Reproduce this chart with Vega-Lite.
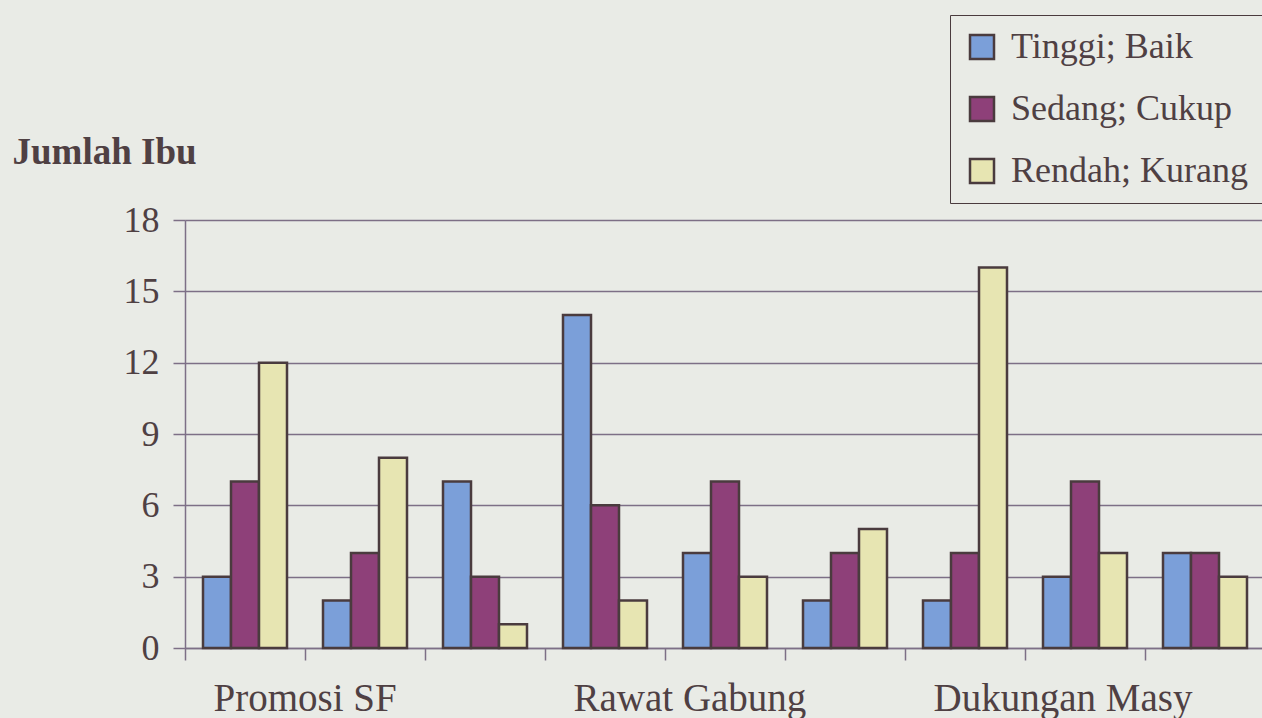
{
  "$schema": "https://vega.github.io/schema/vega-lite/v6.json",
  "width": 1080,
  "height": 428,
  "autosize": "none",
  "padding": {"left": 185, "top": 220, "right": 0, "bottom": 70},
  "background": "#e9ebe6",
  "config": {"view": {"stroke": null}, "font": "Liberation Serif"},
  "data": {
    "values": [
      {"grup": 1, "aspek": "Promosi SF", "kategori": "Tinggi; Baik", "jumlah": 3},
      {"grup": 1, "aspek": "Promosi SF", "kategori": "Sedang; Cukup", "jumlah": 7},
      {"grup": 1, "aspek": "Promosi SF", "kategori": "Rendah; Kurang", "jumlah": 12},
      {"grup": 2, "aspek": "Promosi SF", "kategori": "Tinggi; Baik", "jumlah": 2},
      {"grup": 2, "aspek": "Promosi SF", "kategori": "Sedang; Cukup", "jumlah": 4},
      {"grup": 2, "aspek": "Promosi SF", "kategori": "Rendah; Kurang", "jumlah": 8},
      {"grup": 3, "aspek": "Promosi SF", "kategori": "Tinggi; Baik", "jumlah": 7},
      {"grup": 3, "aspek": "Promosi SF", "kategori": "Sedang; Cukup", "jumlah": 3},
      {"grup": 3, "aspek": "Promosi SF", "kategori": "Rendah; Kurang", "jumlah": 1},
      {"grup": 4, "aspek": "Rawat Gabung", "kategori": "Tinggi; Baik", "jumlah": 14},
      {"grup": 4, "aspek": "Rawat Gabung", "kategori": "Sedang; Cukup", "jumlah": 6},
      {"grup": 4, "aspek": "Rawat Gabung", "kategori": "Rendah; Kurang", "jumlah": 2},
      {"grup": 5, "aspek": "Rawat Gabung", "kategori": "Tinggi; Baik", "jumlah": 4},
      {"grup": 5, "aspek": "Rawat Gabung", "kategori": "Sedang; Cukup", "jumlah": 7},
      {"grup": 5, "aspek": "Rawat Gabung", "kategori": "Rendah; Kurang", "jumlah": 3},
      {"grup": 6, "aspek": "Rawat Gabung", "kategori": "Tinggi; Baik", "jumlah": 2},
      {"grup": 6, "aspek": "Rawat Gabung", "kategori": "Sedang; Cukup", "jumlah": 4},
      {"grup": 6, "aspek": "Rawat Gabung", "kategori": "Rendah; Kurang", "jumlah": 5},
      {"grup": 7, "aspek": "Dukungan Masy", "kategori": "Tinggi; Baik", "jumlah": 2},
      {"grup": 7, "aspek": "Dukungan Masy", "kategori": "Sedang; Cukup", "jumlah": 4},
      {"grup": 7, "aspek": "Dukungan Masy", "kategori": "Rendah; Kurang", "jumlah": 16},
      {"grup": 8, "aspek": "Dukungan Masy", "kategori": "Tinggi; Baik", "jumlah": 3},
      {"grup": 8, "aspek": "Dukungan Masy", "kategori": "Sedang; Cukup", "jumlah": 7},
      {"grup": 8, "aspek": "Dukungan Masy", "kategori": "Rendah; Kurang", "jumlah": 4},
      {"grup": 9, "aspek": "Dukungan Masy", "kategori": "Tinggi; Baik", "jumlah": 4},
      {"grup": 9, "aspek": "Dukungan Masy", "kategori": "Sedang; Cukup", "jumlah": 4},
      {"grup": 9, "aspek": "Dukungan Masy", "kategori": "Rendah; Kurang", "jumlah": 3}
    ]
  },
  "mark": {"type": "bar", "stroke": "#4a3b3e", "strokeWidth": 2.5},
  "encoding": {
    "x": {
      "field": "grup",
      "type": "ordinal",
      "sort": null,
      "scale": {"paddingInner": 0.3, "paddingOuter": 0.15},
      "axis": {
        "title": null,
        "labelAngle": 0,
        "labelExpr": "datum.value == 2 ? 'Promosi SF' : datum.value == 5 ? 'Rawat Gabung' : datum.value == 8 ? 'Dukungan Masy' : ''",
        "labelAlign": "left",
        "tickOffset": -60,
        "labelOffset": -92,
        "labelFontSize": 39,
        "labelColor": "#4f4043",
        "labelPadding": 19,
        "labelOverlap": false,
        "labelBound": false,
        "labelLimit": 500,
        "tickSize": 12,
        "tickWidth": 1.5,
        "tickColor": "#7d6f86",
        "domainColor": "#7d6f86",
        "domainWidth": 1.5,
        "grid": false
      }
    },
    "xOffset": {"field": "kategori", "sort": ["Tinggi; Baik", "Sedang; Cukup", "Rendah; Kurang"]},
    "y": {
      "field": "jumlah",
      "type": "quantitative",
      "scale": {"domain": [0, 18]},
      "axis": {
        "values": [0, 3, 6, 9, 12, 15, 18],
        "title": "Jumlah Ibu",
        "titleFontSize": 37,
        "titleFontWeight": "bold",
        "titleColor": "#4f4043",
        "titleAngle": 0,
        "titleAlign": "left",
        "titleBaseline": "alphabetic",
        "titleX": -173,
        "titleY": -57,
        "labelFontSize": 36,
        "labelColor": "#4f4043",
        "labelPadding": 14,
        "tickSize": 12,
        "tickWidth": 1.5,
        "tickColor": "#7d6f86",
        "domainColor": "#7d6f86",
        "domainWidth": 1.5,
        "grid": true,
        "gridColor": "#7d6f86",
        "gridWidth": 1.5
      }
    },
    "color": {
      "field": "kategori",
      "type": "nominal",
      "sort": ["Tinggi; Baik", "Sedang; Cukup", "Rendah; Kurang"],
      "scale": {
        "domain": ["Tinggi; Baik", "Sedang; Cukup", "Rendah; Kurang"],
        "range": ["#7b9fd9", "#8e4079", "#e7e5b2"]
      },
      "legend": {
        "title": null,
        "orient": "none",
        "legendX": 765,
        "legendY": -205,
        "padding": 14,
        "strokeColor": "#4a3b3e",
        "fillColor": "#e9ebe6",
        "symbolType": "square",
        "symbolSize": 576,
        "symbolStrokeColor": "#4a3b3e",
        "symbolStrokeWidth": 2.5,
        "symbolOpacity": 1,
        "labelFontSize": 36,
        "labelColor": "#4f4043",
        "labelOffset": 11,
        "labelLimit": 400,
        "rowPadding": 26
      }
    }
  }
}
